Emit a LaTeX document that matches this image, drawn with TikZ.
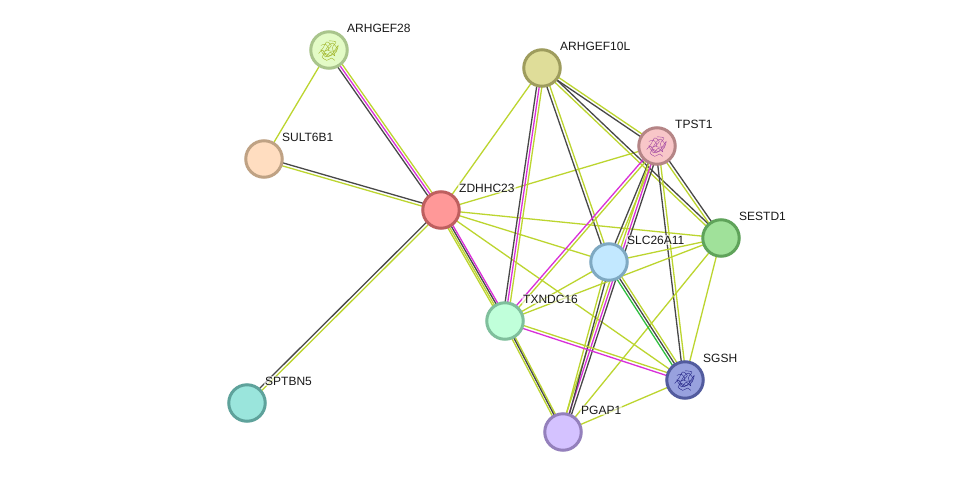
\documentclass[tikz,border=0pt]{standalone}
\usepackage{fontspec}
\setmainfont{Liberation Sans}
\usetikzlibrary{calc,backgrounds}
\definecolor{ty}{HTML}{BCD52F}
\definecolor{tk}{HTML}{484848}
\definecolor{tm}{HTML}{D92FD9}
\definecolor{tg}{HTML}{2FBF3F}
\tikzset{
  prot/.style={circle,draw=#1!100!black,line width=3pt,minimum size=36.5pt,inner sep=0pt},
  lbl/.style={anchor=west,font=\fontsize{12}{12}\selectfont,text=black!90,inner sep=1pt,fill=white,fill opacity=.6,text opacity=1},
  link/.style={line width=1.3pt}
}
\newcommand\edgeb[3]{\foreach \eoff/\ecol in {#3}{\draw[link,color=\ecol] ($(#1)!\eoff pt!90:(#2)$) -- ($(#2)!\eoff pt!-90:(#1)$);}}
\newcommand\fold[2]{\begin{scope}[shift={(#1)},#2,line width=.4pt,scale=1.15]
  \draw plot[smooth] coordinates {(-9,3)(-5,-2)(-2,-7)(2,-4)(-1,0)(4,1)(8,-4)(6,2)(1,5)(-3,3)(-6,6)(-2,9)(2,7)(5,9)};
  \draw plot[smooth] coordinates {(-7,-4)(-3,-5)(0,-1)(-4,1)(-7,0)(-3,6)(1,2)(5,5)(3,-2)(6,-7)(0,-8)};
  \draw plot[smooth] coordinates {(-5,4)(-1,-3)(3,-6)(7,-1)(3,3)(-1,6)(-5,1)};
\end{scope}}
\begin{document}
\begin{tikzpicture}[x=1pt,y=-1pt]
\useasboundingbox (0,0) rectangle (975,477);
\definecolor{cA}{HTML}{A9C58C}\definecolor{cB}{HTML}{BFA284}\definecolor{cC}{HTML}{BE5F5F}
\definecolor{cD}{HTML}{5EA29B}\definecolor{cE}{HTML}{9E9C5D}\definecolor{cF}{HTML}{B58586}
\definecolor{cG}{HTML}{5FA35A}\definecolor{cH}{HTML}{7FA9C2}\definecolor{cI}{HTML}{7FBF9C}
\definecolor{cJ}{HTML}{525B9E}\definecolor{cK}{HTML}{9480BC}
\node[prot=cA,fill={rgb,255:red,227;green,251;blue,198}] (arh28) at (329,50) {};
\node[prot=cB,fill={rgb,255:red,255;green,221;blue,192}] (sult) at (264,159) {};
\node[prot=cC,fill={rgb,255:red,255;green,152;blue,152}] (zdh) at (441,210) {};
\node[prot=cD,fill={rgb,255:red,154;green,229;blue,220}] (spt) at (247,403) {};
\node[prot=cE,fill={rgb,255:red,223;green,221;blue,153}] (arh10) at (542,68) {};
\node[prot=cF,fill={rgb,255:red,248;green,198;blue,200}] (tpst) at (657,146) {};
\node[prot=cG,fill={rgb,255:red,160;green,225;blue,154}] (ses) at (721,238) {};
\node[prot=cH,fill={rgb,255:red,194;green,232;blue,255}] (slc) at (609,262) {};
\node[prot=cI,fill={rgb,255:red,192;green,255;blue,218}] (txn) at (505,321) {};
\node[prot=cJ,fill={rgb,255:red,152;green,161;blue,222}] (sgsh) at (685,380) {};
\node[prot=cK,fill={rgb,255:red,212;green,194;blue,255}] (pgap) at (563,432) {};
\fold{arh28}{color=ty!85!black}
\fold{tpst}{color=tm!65!black!80}
\fold{sgsh}{color=blue!45!black!85}
\begin{scope}[on background layer]
\fill[white] (0,0) rectangle (975,477);
\edgeb{arh28}{sult}{0/ty}
\edgeb{arh28}{zdh}{2.6/ty,0/tm,-2.6/tk}
\edgeb{sult}{zdh}{1.5/tk,-1.5/ty}
\edgeb{zdh}{spt}{1.5/ty,-1.5/tk}
\edgeb{zdh}{arh10}{0/ty}
\edgeb{zdh}{tpst}{0/ty}
\edgeb{zdh}{ses}{0/ty}
\edgeb{zdh}{slc}{0/ty}
\edgeb{zdh}{sgsh}{0/ty}
\edgeb{zdh}{txn}{-3/ty,-1.2/ty,0.8/tk,2.6/tm}
\edgeb{arh10}{txn}{2.6/ty,0/tm,-2.6/tk}
\edgeb{arh10}{slc}{1.5/ty,-1.5/tk}
\edgeb{arh10}{tpst}{1.5/ty,-1.5/tk}
\edgeb{arh10}{ses}{1.5/tk,-1.5/ty}
\edgeb{tpst}{txn}{1.5/ty,-1.5/tm}
\edgeb{tpst}{slc}{1.5/ty,-1.5/tk}
\edgeb{tpst}{pgap}{-2.6/ty,0/tm,2.6/tk}
\edgeb{slc}{pgap}{-1.5/ty,1.5/tk}
\edgeb{tpst}{sgsh}{1.5/ty,-1.5/tk}
\edgeb{tpst}{ses}{1.5/tk,-1.5/ty}
\edgeb{ses}{slc}{0/ty}
\edgeb{ses}{txn}{0/ty}
\edgeb{ses}{pgap}{0/ty}
\edgeb{ses}{sgsh}{0/ty}
\edgeb{slc}{txn}{0/ty}
\edgeb{slc}{sgsh}{2.6/ty,0/tk,-2.6/tg}
\edgeb{txn}{sgsh}{1.5/ty,-1.5/tm}
\edgeb{sgsh}{pgap}{0/ty}
\edgeb{txn}{pgap}{1.5/ty,0/tk,-2/ty}
\end{scope}
\node[lbl] (l1) at (346,28) {ARHGEF28};
\node[lbl] (l2) at (281,137) {SULT6B1};
\node[lbl] (l3) at (458,188) {ZDHHC23};
\node[lbl] (l4) at (264,381) {SPTBN5};
\node[lbl] (l5) at (559,46) {ARHGEF10L};
\node[lbl] (l6) at (674,124) {TPST1};
\node[lbl] (l7) at (738,216) {SESTD1};
\node[lbl] (l8) at (626,240) {SLC26A11};
\node[lbl] (l9) at (522,299) {TXNDC16};
\node[lbl] (l10) at (702,358) {SGSH};
\node[lbl] (l11) at (580,410) {PGAP1};
\end{tikzpicture}
\end{document}
